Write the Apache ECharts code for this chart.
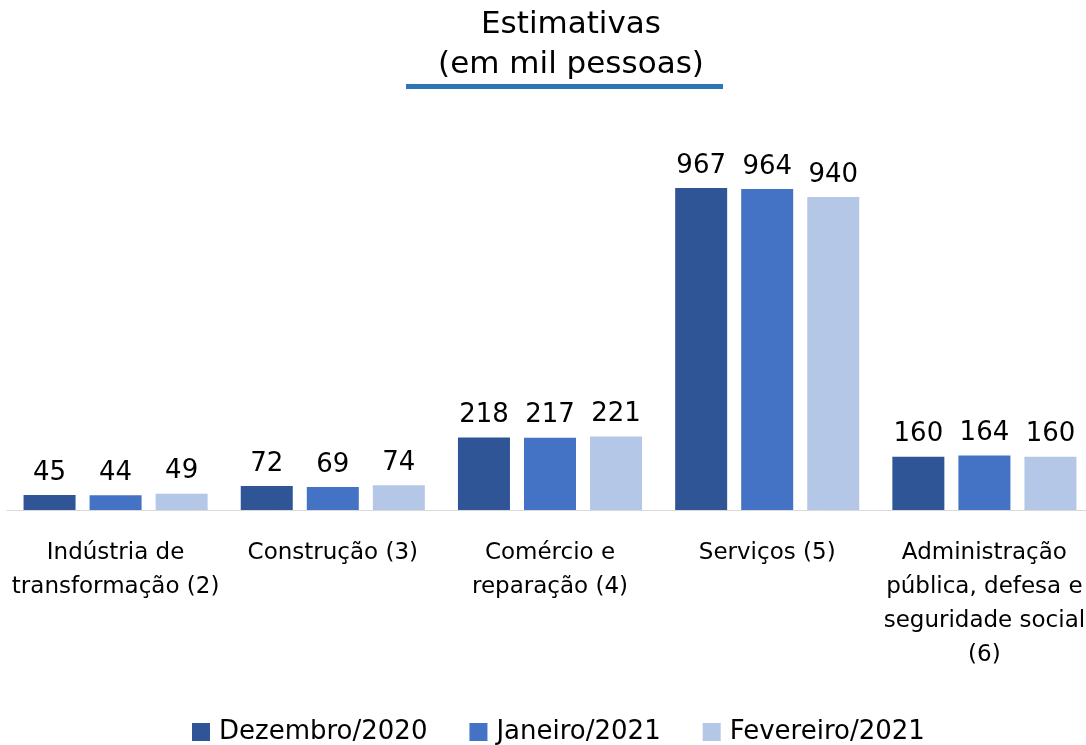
<!DOCTYPE html>
<html>
<head>
<meta charset="utf-8">
<script src="https://cdn.jsdelivr.net/npm/echarts@6/dist/echarts.min.js"></script>
<style>
  html, body { margin: 0; padding: 0; background: #fff; overflow: hidden; }
  #chart { width: 1100px; height: 745px; }
</style>
</head>
<body>
<div id="chart"></div>
<script>
const categories = [
  "Indústria de\ntransformação (2)",
  "Construção (3)",
  "Comércio e\nreparação (4)",
  "Serviços (5)",
  "Administração\npública, defesa e\nseguridade social\n(6)"
];
const dez2020 = [45, 72, 218, 967, 160];
const jan2021 = [44, 69, 217, 964, 164];
const fev2021 = [49, 74, 221, 940, 160];

const font = "DejaVu Sans";

const makeSeries = (name, data, color) => ({
  name: name,
  type: "bar",
  data: data,
  barWidth: 52,
  barGap: "27%",
  itemStyle: { color: color },
  label: {
    show: true,
    position: "top",
    distance: 9,
    color: "#000",
    fontSize: 26,
    fontFamily: font,
  },
});

const option = {
  animation: false,
  title: {
    text: "Estimativas\n(em mil pessoas)",
    left: 566,
    textAlign: "center",
    top: 0,
    textStyle: {
      fontFamily: font,
      fontWeight: "normal",
      fontSize: 31,
      lineHeight: 40,
      color: "#000",
    },
  },
  graphic: [
    {
      type: "rect",
      shape: { x: 406, y: 84, width: 317, height: 5 },
      style: { fill: "#2E75B6" },
    },
  ],
  legend: {
    bottom: -5,
    left: 187,
    itemWidth: 18,
    itemHeight: 18,
    itemGap: 42,
    icon: "rect",
    textStyle: { fontFamily: font, fontSize: 26, color: "#000", padding: [0, 0, 0, 4] },
    data: ["Dezembro/2020", "Janeiro/2021", "Fevereiro/2021"],
  },
  grid: { left: 7, width: 1086, top: 177, bottom: 235 },
  xAxis: {
    type: "category",
    data: categories,
    axisLine: { lineStyle: { color: "#d9d9d9" } },
    axisTick: { show: false },
    axisLabel: {
      interval: 0,
      margin: 26,
      color: "#000",
      fontSize: 23,
      lineHeight: 34,
      fontFamily: font,
    },
  },
  yAxis: {
    type: "value",
    min: 0,
    max: 1000,
    show: false,
    splitLine: { show: false },
  },
  series: [
    makeSeries("Dezembro/2020", dez2020, "#2F5597"),
    makeSeries("Janeiro/2021", jan2021, "#4472C4"),
    makeSeries("Fevereiro/2021", fev2021, "#B4C7E7"),
  ],
};

const myChart = echarts.init(document.getElementById("chart"));
myChart.setOption(option);
</script>
</body>
</html>
